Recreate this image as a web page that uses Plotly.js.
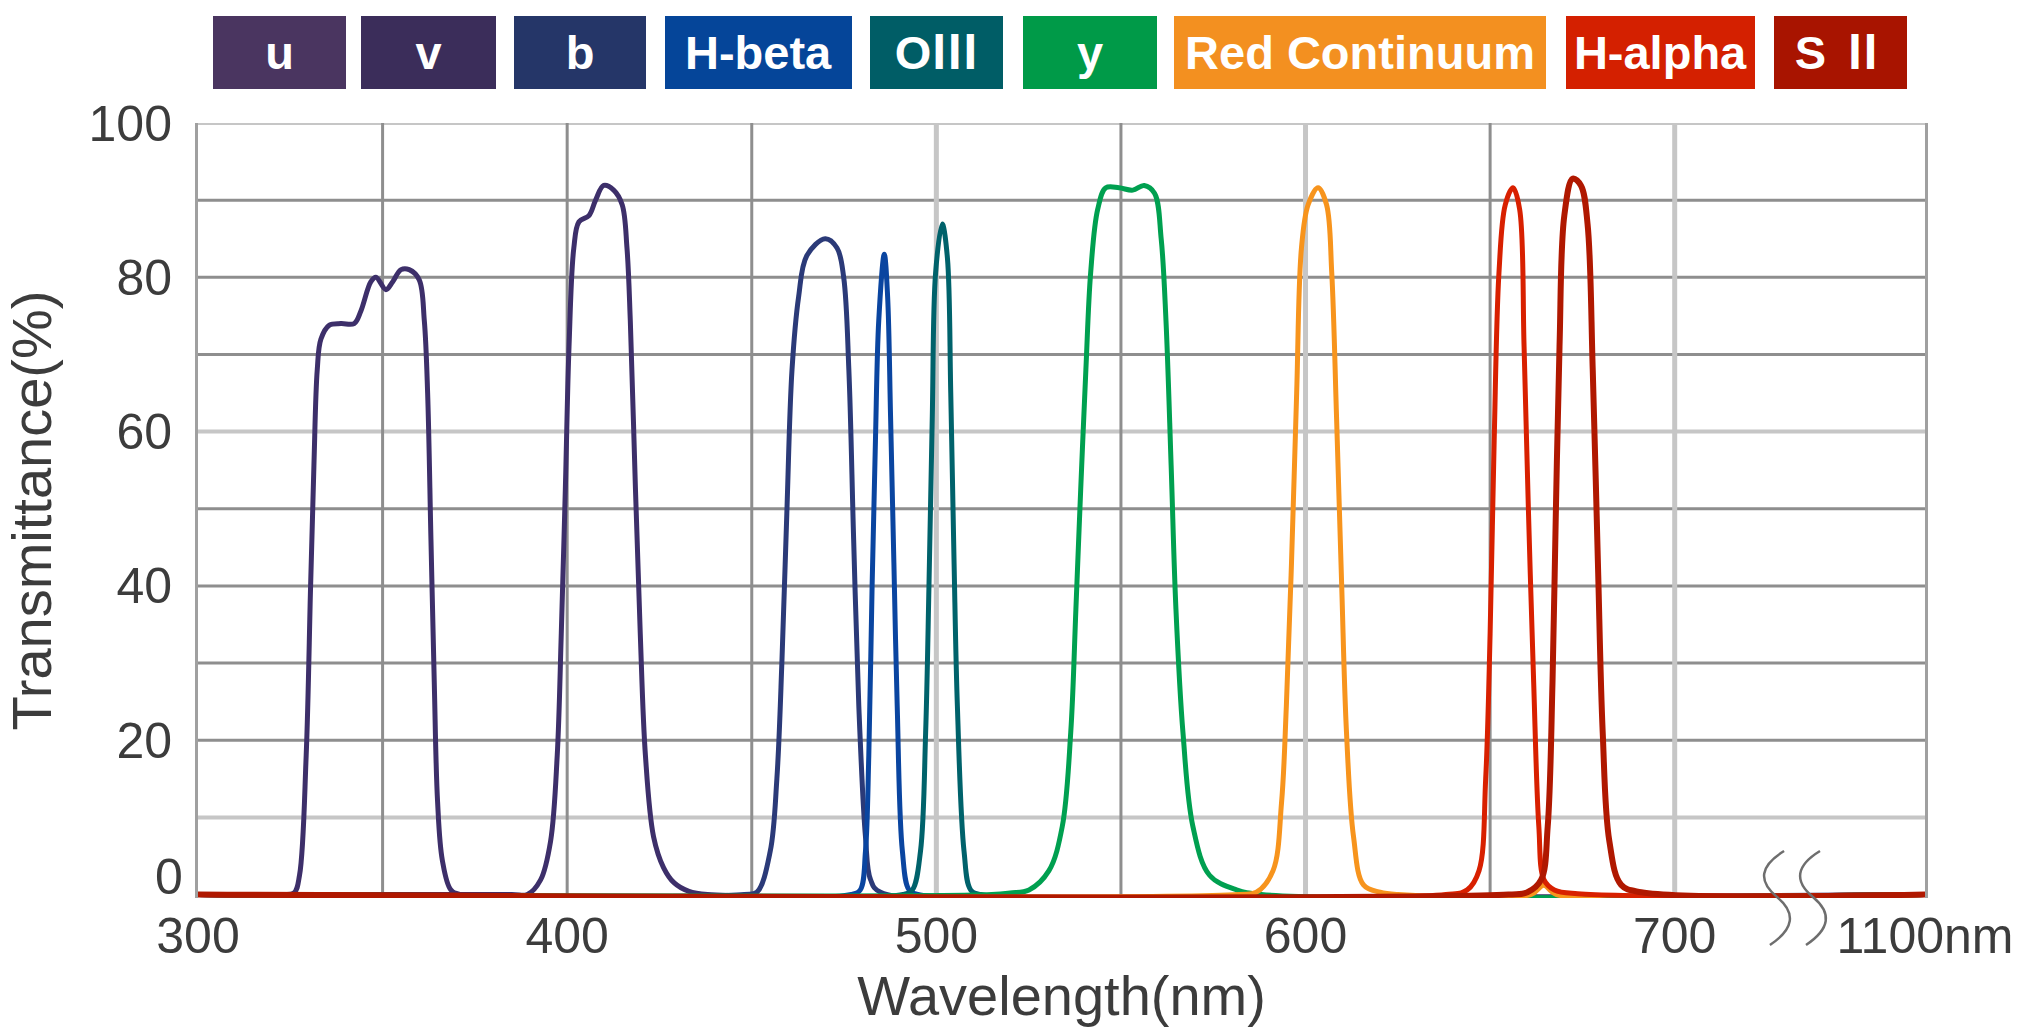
<!DOCTYPE html>
<html><head><meta charset="utf-8">
<script src="https://cdn.plot.ly/plotly-3.0.1.min.js"></script>
<style>html,body{margin:0;padding:0;background:#fff}#chart{width:2032px;height:1032px}</style>
</head><body><div id="chart"></div>
<script>
// ---- data (wavelength nm, transmittance %) ----
const filterNames = ['u','v','b','H-beta','OⅢ','y','Red Continuum','H-alpha','S Ⅱ'];
const boxColors   = ['#4a3560','#3b2d5a','#253668','#054599','#005d66','#009a48','#f39020','#d42000','#a81400'];
const lineColors  = ['#3d2f6a','#3d2f6a','#2b3a78','#0a45a0','#00626b','#00a050','#f7941d','#d82000','#b01800'];

const u_wl = [300,322,326,327.5,329.3,330.5,331.4,332.3,333.3,335.6,338.7,342.3,344.1,346.8,348.2,350.9,352.7,355,357.2,359.9,361.3,362.2,363.1,364,364.9,366.2,368.5,371.2,1100];
const u_T  = [0,0,0.2,2.5,18,40,55.6,68,72,73.8,74,74,75.6,79.4,80,78.4,79.4,81,81,79.7,74.4,65,46,27.5,12,4.4,0.6,0,0];

const v_wl = [300,385,389.2,392.8,395.5,397.3,398.4,399.5,400.5,401.8,403.2,405.9,407.7,409.9,412.6,414.9,416.2,417.1,418.5,419.8,421.2,423.4,426.1,429,433,438,1100];
const v_T  = [0,0,0,1.9,6.9,18,33.8,52.5,71,83.8,87.2,88,90,91.9,91.3,89.4,83.8,74.4,52.5,33.8,18,7.5,3.5,1.5,0.4,0,0];

const b_wl = [300,448,451.4,455,456.8,458.2,459.5,460.9,462.7,464.9,469.9,473.1,474.9,476.3,477.6,479,480.8,482.2,484.9,1100];
const b_T  = [0,0,0.3,5.6,15,30.6,49.4,68,77.5,82.8,85,83.8,80,68,46,24.4,7.5,1.9,0.3,0];

const hb_wl = [300,477,479.4,480.8,481.7,482.6,483.5,484.4,485.9,486.8,487.6,488.5,489.4,490.8,492.6,495,1100];
const hb_T  = [0,0,0.6,5.6,18,40,58.8,74.4,83,77.5,61.9,43,24.4,5.6,0.6,0,0];

const o3_wl = [300,491,493.5,495.7,497.1,498,498.9,499.8,501.6,503,503.9,504.8,505.7,507.5,509.3,512,1100];
const o3_T  = [0,0,0.6,5.6,21,40,62,80.6,86.9,82.5,65,43,24.4,5.6,0.6,0,0];

const y_wl = [300,515,520,525.1,530.5,534.1,536.4,537.8,539.1,540.5,541.8,543.7,545.9,549.5,553.2,556.3,559.1,560.9,562.2,563.6,564.9,566.8,569.5,574,581.3,588,1100];
const y_T  = [0,0,0.2,0.6,3.1,8.8,21,37,52.5,68,80.6,88.8,91.6,91.6,91.3,91.9,90.9,85,74.4,55.6,37,21,8.8,2.5,0.6,0,0];

const rc_wl = [300,582,586.7,591.2,593.5,594.8,596.2,597.6,598.9,600.7,603.4,605.7,607.1,608.4,609.8,611.1,613,615.7,620.2,625,661,664.5,668,1100];
const rc_T  = [0,0,0.3,3.1,11.9,24.4,43,65,83.8,89.4,91.6,89.4,80.6,61.9,40,21,7.5,1.25,0.3,0,0,1.2,0,0];

const ha_wl = [300,638,643.8,647,648.8,650,651.1,652.4,654.1,656.2,658,659.2,660.4,661.8,663.2,664.6,667.4,673.7,1100];
const ha_T  = [0,0,0.6,3.1,15,33.8,58.8,80.6,89.4,91.6,88.8,71,49.4,27.5,8.8,1.9,0.6,0.1,0];

const s2_wl = [300,655,660.1,663.8,665.6,666.9,667.8,668.8,670.1,672.4,674.6,676.4,677.8,679.2,680.5,682.3,685.5,690.9,1100];
const s2_T  = [0,0,0.3,1.9,8.8,27.5,49.4,71,88,92.8,91.9,86.9,68,43,21,6.9,1.25,0.3,0];

const xTickWl   = [300,400,500,600,700,1100];
const xTickText = ['300','400','500','600','700','1100nm'];
const yTickVals = [20,40,60,80,100];
const yTickText = ['20','40','60','80','100'];
const yZeroLabel = '0';
// grid lines (wavelength / percent) and their shade
const xGridDark  = [350,400,450,550,650];
const xGridLight = [500,600,700];
const yGridDark  = [20,30,40,50,70,80,90];
const yGridLight = [10,60,100];

// ---- broken axis: 300-700 nm linear, then 700-1100 nm compressed ----
const BREAK = 700, END = 1100, END_POS = 767.8;
function ax(l){ return l <= BREAK ? l : BREAK + (l - BREAK) * (END_POS - BREAK) / (END - BREAK); }

const series = [
  [u_wl,u_T],[v_wl,v_T],[b_wl,b_T],[hb_wl,hb_T],[o3_wl,o3_T],
  [y_wl,y_T],[rc_wl,rc_T],[ha_wl,ha_T],[s2_wl,s2_T]
];

const traces = series.map((s,i)=>({
  type:'scatter', mode:'lines', name: filterNames[i],
  x: s[0].map(ax), y: s[1],
  line:{color: lineColors[i], width: i===series.length-1 ? 6 : 5, shape:'spline', smoothing:1},
  cliponaxis:false, hoverinfo:'x+y+name'
}));

// ---- layout geometry (pixels) ----
const W=2032, H=1032, L=198, R=107, T=123, B=134;
const Y0 = -0.45;           // a little room below 0 so the baseline is not clipped
const PW = W-L-R, PH = H-T-B;
const px = x => (x-L)/PW, py = y => (H-B-y)/PH;

const tickFont = {family:'Liberation Sans, Arial, sans-serif', size:50, color:'#3c3c3c'};

// legend boxes (pixel extents)
const boxX = [[213,346],[361,496],[514,646],[665,852],[870,1003],[1023,1157],[1174,1546],[1566,1755],[1774,1907]];
const boxY = [16,89];
const annotations = filterNames.map((n,i)=>({
  xref:'paper', yref:'paper', x: px((boxX[i][0]+boxX[i][1])/2), y: py((boxY[0]+boxY[1])/2),
  xanchor:'center', yanchor:'middle', showarrow:false,
  text: n, bgcolor: boxColors[i], width: boxX[i][1]-boxX[i][0], height: boxY[1]-boxY[0],
  borderpad:0, borderwidth:0,
  font:{family:'Liberation Sans, Arial, Noto Sans CJK JP, sans-serif', size:47, color:'#ffffff', weight:'bold'}
}));
// the "0" tick label sits slightly above its grid line in the original
annotations.push({xref:'paper', yref:'y', x:0, y:0, xanchor:'right', yanchor:'middle',
  xshift:-13, yshift:18, showarrow:false, text:yZeroLabel, font:tickFont});

// grid shapes
const DARK = '#8e8e8e', LIGHT = '#c6c6c6';
const shapes = [];
xGridDark.forEach(v=>shapes.push({type:'line', layer:'below', xref:'x', yref:'y', x0:ax(v), x1:ax(v), y0:0, y1:100, line:{color:DARK, width:3}}));
xGridLight.forEach(v=>shapes.push({type:'line', layer:'below', xref:'x', yref:'y', x0:ax(v), x1:ax(v), y0:0, y1:100, line:{color:LIGHT, width:5}}));
yGridDark.forEach(v=>shapes.push({type:'line', layer:'below', xref:'paper', yref:'y', x0:0, x1:1, y0:v, y1:v, line:{color:DARK, width:3}}));
yGridLight.forEach(v=>shapes.push({type:'line', layer:'below', xref:'paper', yref:'y', x0:0, x1:1, y0:v, y1:v, line:{color:LIGHT, width:4}}));

// axis break marks (two S-curves)
function sPath(dx){
  const p=(x,y)=>px(x+dx).toFixed(4)+','+py(y).toFixed(4);
  return 'M'+p(1784,851)+' Q'+p(1748,873)+' '+p(1777,897)+' Q'+p(1806,921)+' '+p(1770,945);
}
[0,36].forEach(d=>shapes.push({type:'path', xref:'paper', yref:'paper', path:sPath(d),
  line:{color:'#6e6e6e', width:2.5}, fillcolor:'rgba(0,0,0,0)'}));

const layout = {
  width:W, height:H, margin:{l:L,r:R,t:T,b:B},
  paper_bgcolor:'#fff', plot_bgcolor:'#fff', showlegend:false,
  xaxis:{range:[300,END_POS], tickmode:'array', tickvals:xTickWl.map(ax), ticktext:xTickText,
    showgrid:false, zeroline:false, showline:false, layer:'below traces',
    ticks:'', tickfont:tickFont, ticklabelstandoff:4,
    title:{text:'Wavelength(nm)', font:{family:'Liberation Sans, Arial, sans-serif', size:56, color:'#3c3c3c'}, standoff:8}},
  yaxis:{range:[Y0,100], tickmode:'array', tickvals:yTickVals, ticktext:yTickText,
    showgrid:false, zeroline:false,
    showline:true, mirror:true, linecolor:'#a0a0a0', linewidth:3, layer:'below traces',
    ticks:'', tickfont:tickFont, ticklabelstandoff:13,
    title:{text:'Transmittance(%)', font:{family:'Liberation Sans, Arial, sans-serif', size:56, color:'#3c3c3c'}, standoff:32}},
  annotations, shapes
};
Plotly.newPlot('chart', traces, layout, {displayModeBar:false, staticPlot:true});
</script></body></html>
